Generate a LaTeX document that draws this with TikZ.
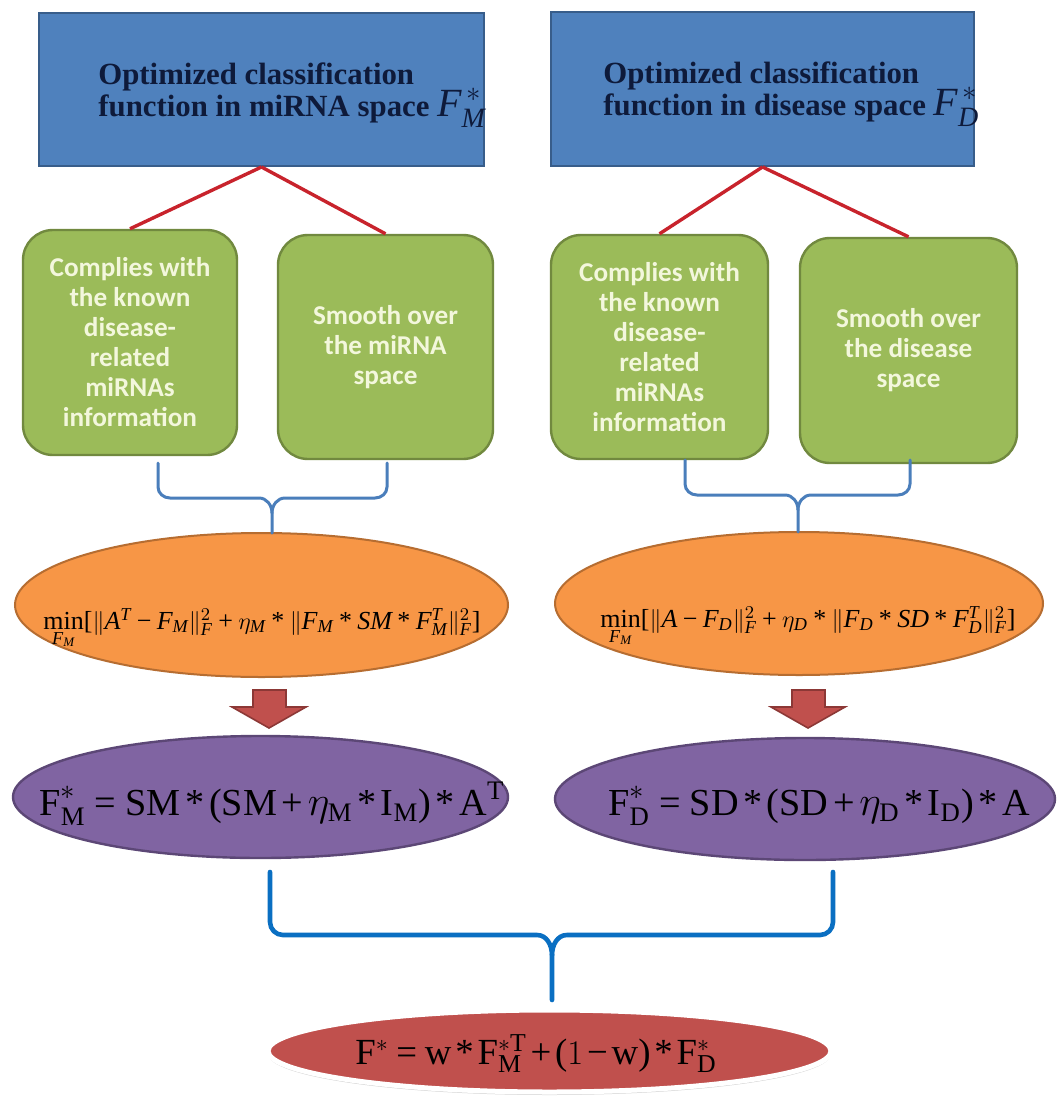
\documentclass[tikz,border=0pt]{standalone}
\usepackage{fontspec}
\setmainfont{Liberation Serif}
\setmathrm{Liberation Serif}
\newfontfamily\calib{Carlito}
\usetikzlibrary{shapes.geometric,shadows}
\definecolor{boxblue}{HTML}{4F81BD}
\definecolor{blueedge}{HTML}{385D8A}
\definecolor{titlenavy}{HTML}{0E1A3A}
\definecolor{redline}{HTML}{C8232C}
\definecolor{boxgreen}{HTML}{9BBB59}
\definecolor{greenedge}{HTML}{71893F}
\definecolor{greentext}{HTML}{F3F7DC}
\definecolor{bracetop}{HTML}{4A7EBB}
\definecolor{bracebot}{HTML}{0A6FC2}
\definecolor{boxorange}{HTML}{F79646}
\definecolor{orangeedge}{HTML}{B66D31}
\definecolor{arrowred}{HTML}{C0504D}
\definecolor{arrowedge}{HTML}{8C3836}
\definecolor{boxpurple}{HTML}{8064A2}
\definecolor{purpleedge}{HTML}{5C4776}
\definecolor{boxred}{HTML}{C0504D}
\newcommand{\vi}[1]{\mathit{#1}}
\newcommand{\rmm}[1]{\mathrm{#1}}
\newcommand{\Ast}{\mathbin{\mbox{*}}}
\newcommand{\Pl}{\mathbin{\mbox{+}}}
\newcommand{\Mi}{\mathbin{\mbox{\symbol{"2212}}}}
\newcommand{\Eq}{\mathrel{\mbox{=}}}
\newcommand{\Lp}{\mathopen{\mbox{(}}}
\newcommand{\Rp}{\mathclose{\mbox{)}}}
\newcommand{\Lb}{\mathopen{\mbox{[}}}
\newcommand{\Rb}{\mathclose{\mbox{]}}}
\begin{document}
\begin{tikzpicture}[x=0.5pt,y=-0.5pt,
  bluebox/.style={draw=blueedge, fill=boxblue, line width=1pt, inner sep=0pt},
  titletext/.style={text=titlenavy, align=left, inner sep=0pt, font=\bfseries\fontsize{15.4}{16}\selectfont},
  greenbox/.style={draw=greenedge, fill=boxgreen, line width=1.2pt, rounded corners=15pt,
     align=center, text=greentext, inner sep=0pt,
     font=\calib\bfseries\fontsize{13.6}{15}\selectfont},
  link/.style={draw=redline, line width=1.7pt},
  bracestyle/.style={draw=bracetop, line width=1.5pt, line cap=round},
  bracebig/.style={draw=bracebot, line width=2.3pt, line cap=round},
  orangeell/.style={ellipse, draw=orangeedge, fill=boxorange, line width=1pt, inner sep=0pt},
  purpleell/.style={ellipse, draw=purpleedge, fill=boxpurple, line width=1.2pt, inner sep=0pt},
  redell/.style={ellipse, draw=white, fill=boxred, line width=2.5pt, inner sep=0pt,
     drop shadow={opacity=0.35, shadow xshift=0pt, shadow yshift=-1.5pt}},
  blockarrow/.style={fill=arrowred, draw=arrowedge, line width=0.8pt, line join=miter},
  orangeformula/.style={inner sep=0pt, font=\fontsize{13}{14}\selectfont},
  bigformula/.style={inner sep=0pt, font=\fontsize{19.1}{22}\selectfont},
  redformula/.style={inner sep=0pt, font=\fontsize{18.4}{22}\selectfont}
]
\useasboundingbox (0,0) rectangle (1064,1097);
\fill[white] (0,0) rectangle (1064,1097);

% top blue boxes
\node[bluebox, minimum width=222.5pt, minimum height=76.5pt] (bl) at (261.5,89.5) {};
\node[bluebox, minimum width=211.5pt, minimum height=77pt] (br) at (762.5,89) {};
\node[titletext, anchor=base west] (tl) at (98,117)
  {Optimized classification\\function in miRNA space \smash{\mdseries\fontsize{20}{16}\selectfont$\vi{F}_{\vi{M}}^{\,*}$}};
\node[titletext, anchor=base west] (tr) at (603,116)
  {Optimized classification\\function in disease space \smash{\mdseries\fontsize{20}{16}\selectfont$\vi{F}_{\vi{D}}^{\,*}$}};

% green boxes
\node[greenbox, minimum width=107pt, minimum height=112.5pt] (g1) at (130,342.5)
  {Complies with\\the known\\disease-\\related\\miRNAs\\information};
\node[greenbox, minimum width=107.5pt, minimum height=112pt] (g2) at (385.5,347)
  {Smooth over\\the miRNA\\space};
\node[greenbox, minimum width=108.5pt, minimum height=112pt] (g3) at (659.5,347)
  {Complies with\\the known\\disease-\\related\\miRNAs\\information};
\node[greenbox, minimum width=108.5pt, minimum height=112.5pt] (g4) at (908.5,350.5)
  {Smooth over\\the disease\\space};

% red links
\draw[link] (bl.south) -- (g1.north);
\draw[link] (bl.south) -- (g2.north);
\draw[link] (br.south) -- (g3.north);
\draw[link] (br.south) -- (g4.north);

% orange ellipses
\node[orangeell, minimum width=246.5pt, minimum height=72pt] (o1) at (261.5,605) {};
\node[orangeell, minimum width=244pt, minimum height=71.5pt] (o2) at (799,603.5) {};
\node[orangeformula, anchor=base] (f1) at (262,629)
  {$\min\limits_{\vi{F}_{\vi{M}}}\Lb\|\vi{A}^{\vi{T}}\Mi\vi{F}_{\vi{M}}\|_{\vi{F}}^{2}\Pl\eta_{\vi{M}}\Ast\|\vi{F}_{\vi{M}}\Ast\vi{SM}\Ast\vi{F}_{\vi{M}}^{\vi{T}}\|_{\vi{F}}^{2}\Rb$};
\node[orangeformula, anchor=base] (f2) at (808,627)
  {$\min\limits_{\vi{F}_{\vi{M}}}\Lb\|\vi{A}\Mi\vi{F}_{\vi{D}}\|_{\vi{F}}^{2}\Pl\eta_{\vi{D}}\Ast\|\vi{F}_{\vi{D}}\Ast\vi{SD}\Ast\vi{F}_{\vi{D}}^{\vi{T}}\|_{\vi{F}}^{2}\Rb$};

% top braces
\coordinate (b1l) at (158,463);
\coordinate (b1r) at (387,463);
\coordinate (b1c) at (272,533);
\draw[bracestyle] (b1l) -- (158,487) to[out=-90,in=180] (170,498) -- (259,498) to[out=0,in=90] (272,513) -- (b1c);
\draw[bracestyle] (b1r) -- (387,487) to[out=-90,in=0] (375,498) -- (285,498) to[out=180,in=90] (272,513);
\coordinate (b2l) at (685,460);
\coordinate (b2r) at (910,460);
\coordinate (b2c) at (798,532);
\draw[bracestyle] (b2l) -- (685,484) to[out=-90,in=180] (697,495) -- (785,495) to[out=0,in=90] (798,510) -- (b2c);
\draw[bracestyle] (b2r) -- (910,484) to[out=-90,in=0] (898,495) -- (811,495) to[out=180,in=90] (798,510);

% block arrows
\draw[blockarrow] (253,690) -- (286,690) -- (286,707) -- (306,707) -- (269,728) -- (232,707) -- (253,707) -- cycle;
\draw[blockarrow] (792,690) -- (825,690) -- (825,707) -- (845,707) -- (808,728) -- (771,707) -- (792,707) -- cycle;

% purple ellipses
\node[purpleell, minimum width=247.5pt, minimum height=61pt] (p1) at (260.5,797) {};
\node[purpleell, minimum width=250pt, minimum height=61pt] (p2) at (805,799) {};
\node[bigformula, anchor=base] (f3) at (272,815)
  {$\medmuskip=2mu\thickmuskip=4mu\rmm{F}_{\rmm{M}}^{*}\Eq\rmm{SM}\Ast\Lp\rmm{SM}\Pl\eta_{\rmm{M}}\Ast\rmm{I}_{\rmm{M}}\Rp\Ast\rmm{A}^{\rmm{T}}$};
\node[bigformula, anchor=base] (f4) at (819,815)
  {$\medmuskip=2mu\thickmuskip=4mu\rmm{F}_{\rmm{D}}^{*}\Eq\rmm{SD}\Ast\Lp\rmm{SD}\Pl\eta_{\rmm{D}}\Ast\rmm{I}_{\rmm{D}}\Rp\Ast\rmm{A}$};

% bottom brace
\coordinate (b3l) at (270,872);
\coordinate (b3r) at (833,872);
\coordinate (b3c) at (552,1000);
\draw[bracebig] (b3l) -- (270,922) to[out=-90,in=180] (283,935) -- (537,935) to[out=0,in=90] (552,955) -- (b3c);
\draw[bracebig] (b3r) -- (833,922) to[out=-90,in=0] (820,935) -- (567,935) to[out=180,in=90] (552,955);

% red ellipse
\node[redell, minimum width=281.5pt, minimum height=41pt] (r) at (549.5,1051) {};
\node[redformula, anchor=base] (f5) at (536,1064)
  {$\medmuskip=2mu\thickmuskip=4mu\rmm{F}^{*}\Eq\rmm{w}\Ast\rmm{F}_{\rmm{M}}^{*\rmm{T}}\Pl\Lp1\Mi\rmm{w}\Rp\Ast\rmm{F}_{\rmm{D}}^{*}$};
\end{tikzpicture}
\end{document}
